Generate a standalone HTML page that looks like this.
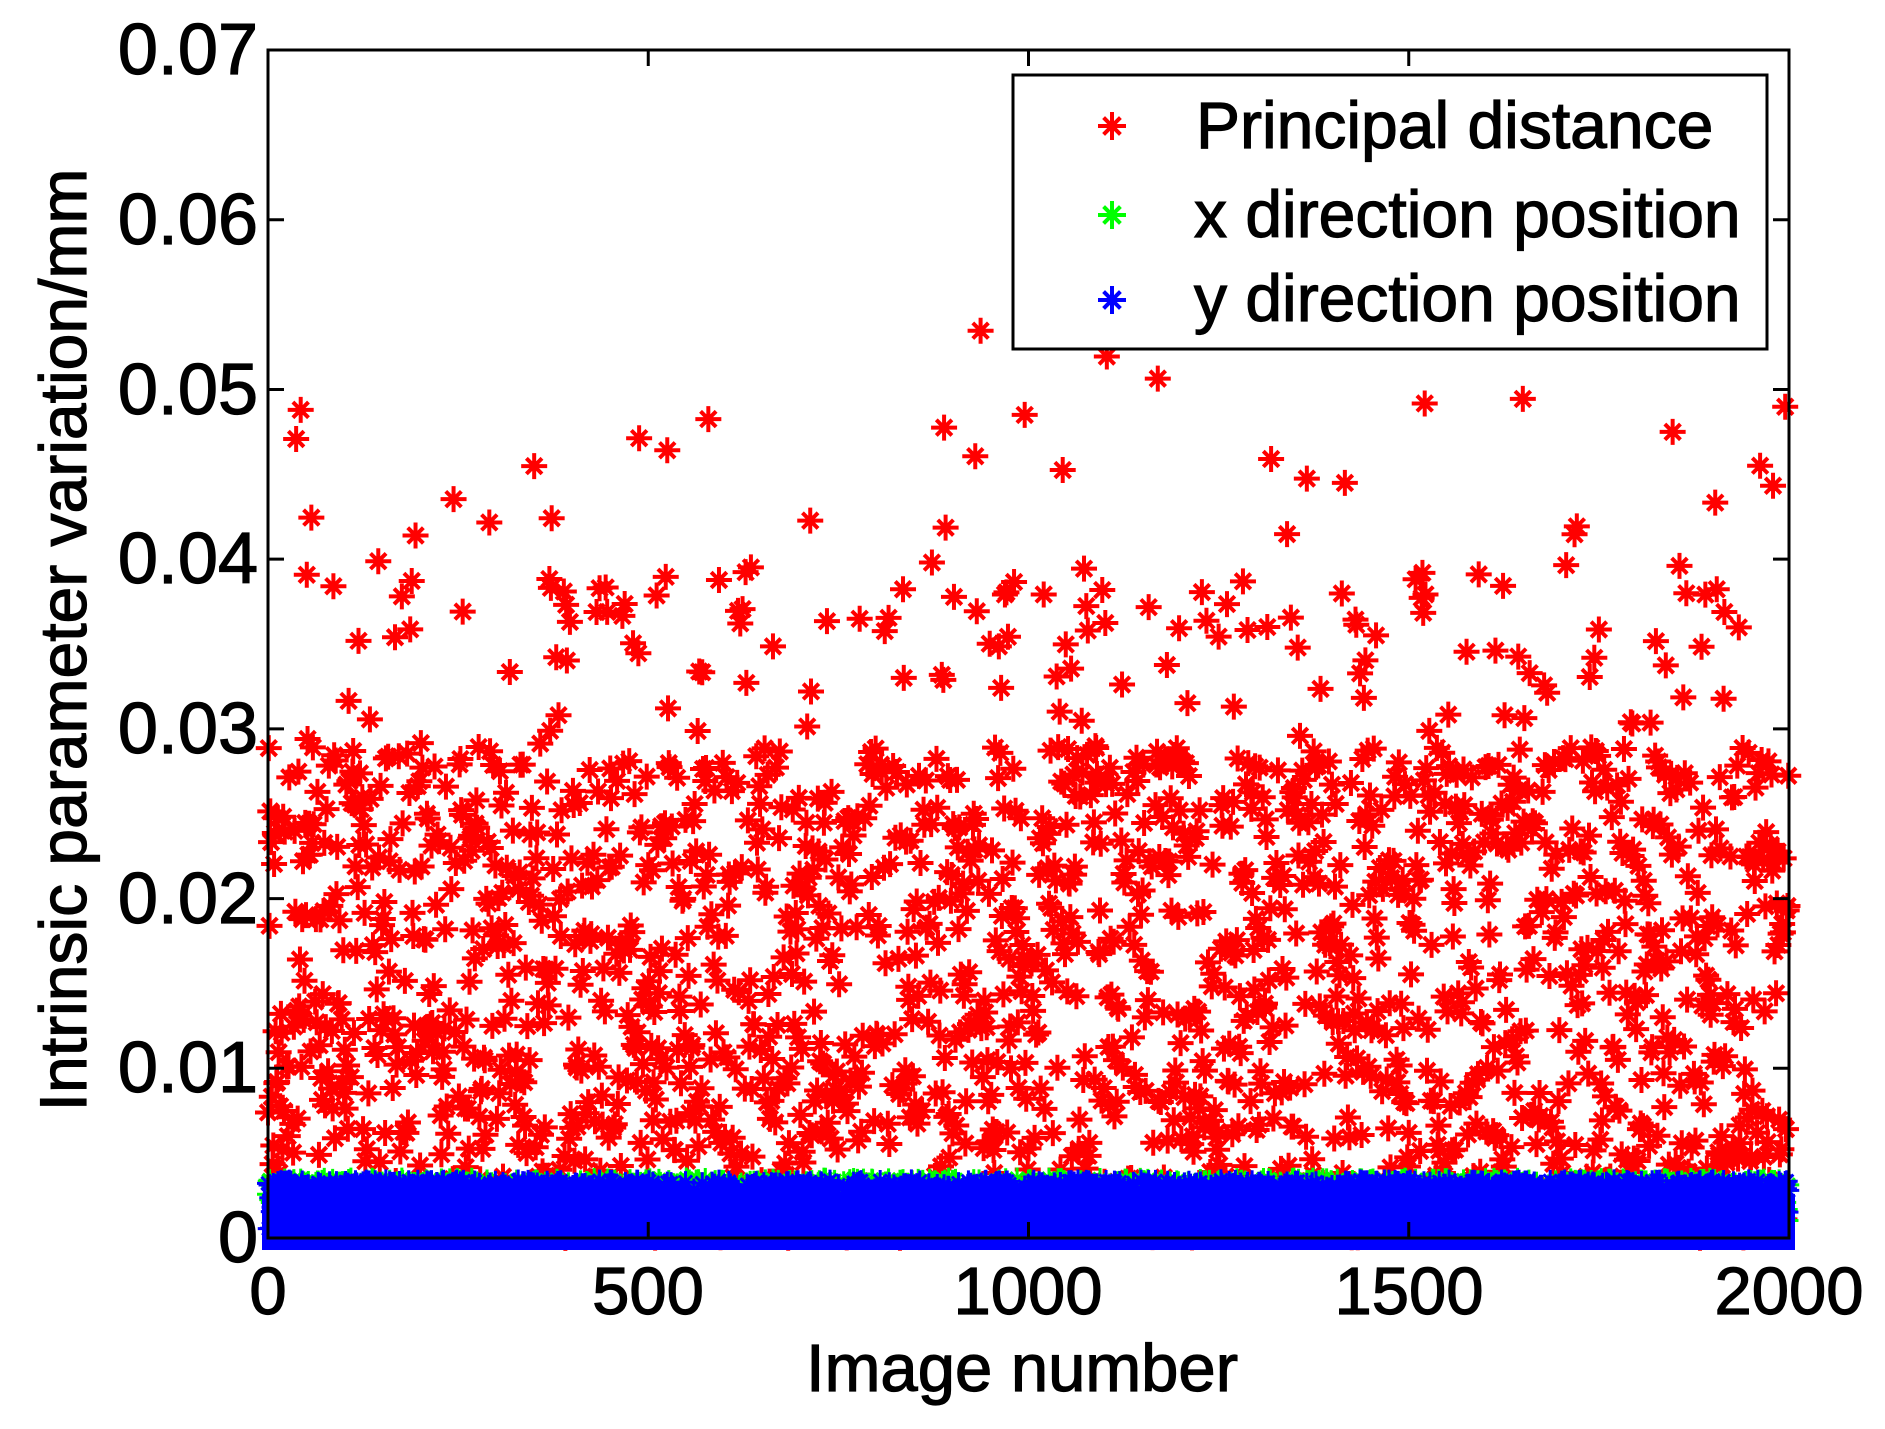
<!DOCTYPE html>
<html><head><meta charset="utf-8"><style>
html,body{margin:0;padding:0;background:#fff}
svg{display:block}
text{font-family:"Liberation Sans",sans-serif;fill:#000;stroke:#000;stroke-width:1.2}
</style></head><body>
<svg id="s" width="1885" height="1429" viewBox="0 0 1885 1429" xmlns="http://www.w3.org/2000/svg">
<rect width="1885" height="1429" fill="#fff"/>
<g id="data"></g>
<rect x="268" y="50" width="1521" height="1188" fill="none" stroke="#000" stroke-width="3"/>
<g id="ticks" stroke="#000" stroke-width="3"></g>
<g font-size="72" text-anchor="end">
<text x="258" y="74">0.07</text><text x="258" y="244">0.06</text><text x="258" y="414">0.05</text>
<text x="258" y="583">0.04</text><text x="258" y="753">0.03</text><text x="258" y="923">0.02</text>
<text x="258" y="1092">0.01</text><text x="258" y="1262">0</text>
</g>
<g font-size="67" text-anchor="middle">
<text x="268" y="1314">0</text><text x="648" y="1314">500</text><text x="1028" y="1314">1000</text>
<text x="1409" y="1314">1500</text><text x="1789" y="1314">2000</text>
<text x="1022" y="1391">Image number</text>
<text transform="translate(86,640) rotate(-90)" font-size="66">Intrinsic parameter variation/mm</text>
</g>
<rect x="1013" y="75" width="754" height="274" fill="#fff" stroke="#000" stroke-width="3"/>
<g id="leg"></g>
<g font-size="66">
<text x="1196" y="148">Principal distance</text>
<text x="1194" y="237">x direction position</text>
<text x="1194" y="321">y direction position</text>
</g>
</svg>
<script>
var NS="http://www.w3.org/2000/svg";
function star(x,y,r){return "M"+(x-r)+" "+y+"h"+2*r+"M"+x+" "+(y-r)+"v"+2*r+"M"+(x-r*.6)+" "+(y-r*.6)+"l"+1.2*r+" "+1.2*r+"M"+(x-r*.6)+" "+(y+r*.6)+"l"+1.2*r+" "+(-1.2*r);}
var seed=12345;function rnd(){seed=(seed*1103515245+12345)%2147483648;return seed/2147483648;}
function X(i){return 268+i*1521/2000;}function Y(v){return 1238-v*16971;}
function series(col,gen,n,r,w){var d="";for(var i=0;i<n;i++){var v=gen();d+=star(X(i),Y(v),r);}
var p=document.createElementNS(NS,"path");p.setAttribute("d",d);p.setAttribute("stroke",col);p.setAttribute("stroke-width",w);p.setAttribute("fill","none");document.getElementById("data").appendChild(p);}
series("#f00",function(){var r=rnd();if(r<0.025)return 0.036+rnd()*0.02;if(r<0.1)return 0.026+rnd()*0.014;return 0.029*Math.pow(rnd(),1.15);},2000,13,4);
series("#0f0",function(){return 0.0035*Math.pow(rnd(),0.6);},2000,11,3);
var b=document.createElementNS(NS,"rect");b.setAttribute("x",262);b.setAttribute("y",Y(0.0026));b.setAttribute("width",1533);b.setAttribute("height",Y(0)-Y(0.0026)+12);b.setAttribute("fill","#00f");document.getElementById("data").appendChild(b);
series("#00f",function(){return 0.0034*Math.pow(rnd(),0.5);},2000,11,3);
var t="";for(var k=1;k<7;k++){var y=Y(k*0.01);t+="M268 "+y+"h16M1789 "+y+"h-16";}
for(var k=1;k<4;k++){var x=X(k*500);t+="M"+x+" 50v16M"+x+" 1238v-16";}
var tp=document.createElementNS(NS,"path");tp.setAttribute("d",t);document.getElementById("ticks").appendChild(tp);
var cols=["#f00","#0f0","#00f"],ys=[126,215,300],lg=document.getElementById("leg");
for(var i=0;i<3;i++){var p=document.createElementNS(NS,"path");p.setAttribute("d",star(1112,ys[i],14));p.setAttribute("stroke",cols[i]);p.setAttribute("stroke-width","4");lg.appendChild(p);}
</script>
</body></html>
